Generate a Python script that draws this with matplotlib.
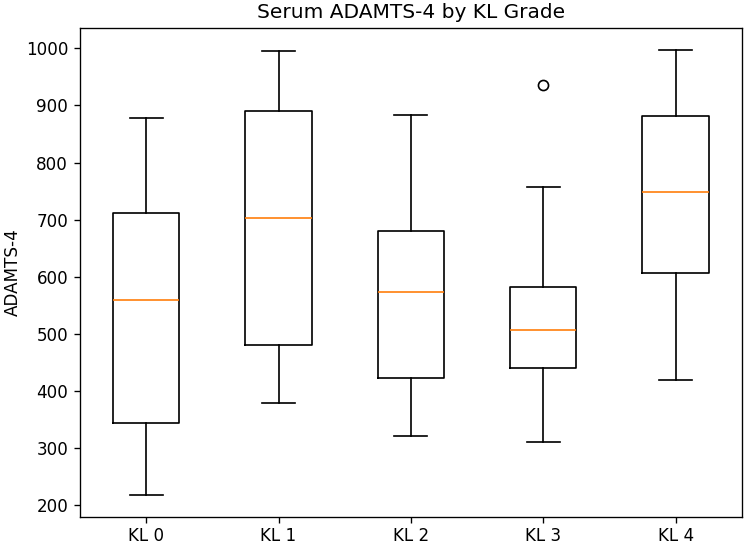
import matplotlib
matplotlib.use("Agg")
import matplotlib.pyplot as plt

# values
grades = ["KL 0", "KL 1", "KL 2", "KL 3", "KL 4"]
whisker_low = [218, 379, 322, 311, 419]
q1 = [344, 481, 422, 441, 607]
median = [560, 703, 574, 507, 748]
q3 = [711, 891, 681, 582, 881]
whisker_high = [878, 996, 883, 758, 997]
outliers = [[], [], [], [936], []]

stats = []
for i, name in enumerate(grades):
    stats.append({
        "label": name,
        "whislo": whisker_low[i],
        "q1": q1[i],
        "med": median[i],
        "q3": q3[i],
        "whishi": whisker_high[i],
        "fliers": outliers[i],
    })

fig, ax = plt.subplots(figsize=(744 / 121, 545 / 121), dpi=121)
ax.bxp(stats)
ax.set_title("Serum ADAMTS-4 by KL Grade")
ax.set_ylabel("ADAMTS-4", labelpad=2)
ax.tick_params(axis="x", pad=2.5)

fig.subplots_adjust(left=0.1075, right=0.997, bottom=0.051, top=0.949)
plt.savefig("out.png")
